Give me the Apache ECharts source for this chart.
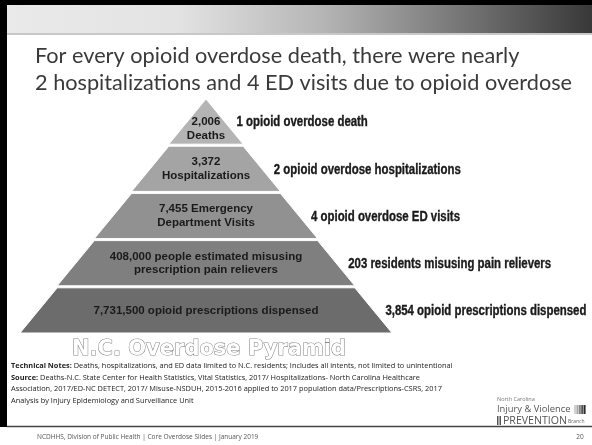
<!DOCTYPE html>
<html>
<head>
<meta charset="utf-8">
<script src="https://cdn.jsdelivr.net/npm/echarts@6/dist/echarts.min.js"></script>
<style>
  html, body { margin: 0; padding: 0; background: #fff; }
  #chart { width: 592px; height: 445px; }
</style>
</head>
<body>
<div id="chart"></div>
<script>
// Pyramid tiers, apex first. Rank sets each tier's width (tiers are equal steps).
const tierNames = ['Deaths', 'Hospitalizations', 'ED visits', 'Misuse', 'Prescriptions'];
const tierRank = [1, 2, 3, 4, 5];
const tierLabels = [
  '2,006\nDeaths',
  '3,372\nHospitalizations',
  '7,455 Emergency\nDepartment Visits',
  '408,000 people estimated misusing\nprescription pain relievers',
  '7,731,500 opioid prescriptions dispensed'
];
const ratioLabels = [
  '1 opioid overdose death',
  '2 opioid overdose hospitalizations',
  '4 opioid overdose ED visits',
  '203 residents misusing pain relievers',
  '3,854 opioid prescriptions dispensed'
];
const titleLines = [
  'For every opioid overdose death, there were nearly',
  '2 hospitalizations and 4 ED visits due to opioid overdose'
];
const noteLines = [
  '{b|Technical Notes:} Deaths, hospitalizations, and ED data limited to N.C. residents; Includes all intents, not limited to unintentional',
  '{b|Source:} Deaths-N.C. State Center for Health Statistics, Vital Statistics, 2017/ Hospitalizations- North Carolina Healthcare',
  'Association, 2017/ED-NC DETECT, 2017/ Misuse-NSDUH, 2015-2016 applied to 2017 population data/Prescriptions-CSRS, 2017',
  'Analysis by Injury Epidemiology and Surveillance Unit'
];
const footerText = 'NCDHHS, Division of Public Health | Core Overdose Slides | January 2019';
const pageNumber = '20';

const tierColors = ['#b4b4b4', '#a4a4a4', '#919191', '#7f7f7f', '#6c6c6c'];

const chart = echarts.init(document.getElementById('chart'), null, { renderer: 'canvas' });

const pyramidBox = { left: 20, top: 99, width: 372, height: 234 };
const tierGap = 2;

const bodyFont = "'Liberation Sans', Arial, sans-serif";

// Side captions sit just right of each tier's sloped edge, at the tier's mid-height,
// using the same tier geometry the funnel lays out.
const tierCount = tierRank.length;
const tierHeight = (pyramidBox.height - tierGap * (tierCount - 1)) / tierCount;
const pyramidCx = pyramidBox.left + pyramidBox.width / 2;
const widthOf = r => r / tierRank.length * pyramidBox.width;
const sideCaptions = tierRank.map((r, i) => {
  const bottom = pyramidBox.top + pyramidBox.height - (tierCount - 1 - i) * (tierHeight + tierGap);
  const mid = bottom - tierHeight / 2;
  const wBottom = widthOf(r);
  const wTop = i > 0 ? widthOf(tierRank[i - 1]) : 0;
  const edgeX = pyramidCx + (wBottom + wTop) / 4;
  return {
    type: 'text', x: edgeX + 12, y: mid + 1, scaleX: 0.815, silent: true,
    style: { text: ratioLabels[i], font: "bold 14px 'Liberation Sans', Arial, sans-serif",
      fill: '#1a1a1a', stroke: '#1a1a1a', lineWidth: 0.35, verticalAlign: 'middle' }
  };
});

chart.setOption({
  backgroundColor: '#ffffff',
  animation: false,
  graphic: [
    // slide frame and header band
    { type: 'rect', shape: { x: 0, y: 0, width: 592, height: 34 },
      style: { fill: new echarts.graphic.LinearGradient(0, 0, 1, 0, [
        { offset: 0, color: '#eaeaea' },
        { offset: 0.3, color: '#e3e3e3' },
        { offset: 0.55, color: '#b4b4b4' },
        { offset: 0.8, color: '#707070' },
        { offset: 1, color: '#383838' }
      ]) }, silent: true },
    { type: 'rect', shape: { x: 0, y: 33, width: 592, height: 2 }, style: { fill: '#c8c8c8' }, silent: true },
    { type: 'rect', shape: { x: 0, y: 0, width: 592, height: 5 }, style: { fill: '#000' }, silent: true },
    { type: 'rect', shape: { x: 0, y: 0, width: 7, height: 427 }, style: { fill: '#000' }, silent: true },
    { type: 'line', shape: { x1: 7, y1: 426.5, x2: 592, y2: 426.5 }, style: { stroke: '#444', lineWidth: 1.5 }, silent: true },

    // headline
    { type: 'text', x: 35, y: 56, silent: true,
      style: { text: titleLines[0], font: "21.7px Lato, 'Open Sans', sans-serif", fill: '#3a3a3a', verticalAlign: 'middle' } },
    { type: 'text', x: 35, y: 83, silent: true,
      style: { text: titleLines[1], font: "21.7px Lato, 'Open Sans', sans-serif", fill: '#3a3a3a', verticalAlign: 'middle' } },

    // pyramid caption
    { type: 'text', x: 209, y: 350, silent: true,
      style: { text: 'N.C. Overdose Pyramid', font: "bold 21px 'DejaVu Sans', sans-serif",
        fill: '#ffffff', stroke: '#888888', lineWidth: 1.1, align: 'center', verticalAlign: 'middle' } },

    // side captions
    ...sideCaptions,

    // notes
    ...noteLines.map((t, i) => ({
      type: 'text', x: 11, y: 366 + i * 11.6, silent: true,
      style: { text: t, font: "7.4px 'Open Sans', sans-serif", fill: '#222', verticalAlign: 'middle',
        rich: { b: { font: "bold 7.4px 'Open Sans', sans-serif", fill: '#222' } } }
    })),

    // branch logo
    { type: 'text', x: 497, y: 399, silent: true,
      style: { text: 'North Carolina', font: "5.5px 'Open Sans', sans-serif", fill: '#777', verticalAlign: 'middle' } },
    { type: 'text', x: 497, y: 409.5, silent: true,
      style: { text: 'Injury & Violence', font: "9.4px 'Open Sans', sans-serif", fill: '#555', verticalAlign: 'middle' } },
    ...[0, 1, 2, 3, 4].map(k => ({
      type: 'rect', silent: true, shape: { x: 574 + k * 2.4, y: 405, width: 2, height: 9 },
      style: { fill: ['#d0d0d0', '#a8a8a8', '#808080', '#555', '#2a2a2a'][k] }
    })),
    { type: 'rect', silent: true, shape: { x: 497, y: 416, width: 1.5, height: 9 }, style: { fill: '#555' } },
    { type: 'rect', silent: true, shape: { x: 499.5, y: 416, width: 1.5, height: 9 }, style: { fill: '#555' } },
    { type: 'text', x: 503, y: 421, silent: true,
      style: { text: 'PREVENTION', font: "10.6px 'Open Sans', sans-serif", fill: '#555', verticalAlign: 'middle' } },
    { type: 'text', x: 568, y: 422, silent: true,
      style: { text: 'Branch', font: "5px 'Open Sans', sans-serif", fill: '#666', verticalAlign: 'middle' } },

    // footer
    { type: 'text', x: 37, y: 437, silent: true,
      style: { text: footerText, font: "6.5px 'Open Sans', sans-serif", fill: '#555', verticalAlign: 'middle' } },
    { type: 'text', x: 580, y: 437, silent: true,
      style: { text: pageNumber, font: "6.5px 'Open Sans', sans-serif", fill: '#555', align: 'center', verticalAlign: 'middle' } }
  ],
  series: [
    // tiers with their counts inside
    Object.assign({
      type: 'funnel',
      name: 'Overdose pyramid',
      sort: 'ascending',
      min: 0,
      max: tierRank.length,
      minSize: '0%',
      maxSize: '100%',
      gap: tierGap,
      silent: true,
      animation: false,
      labelLine: { show: false },
      emphasis: { disabled: true },
      data: tierRank.map((v, i) => ({
        name: tierNames[i],
        value: v,
        itemStyle: { color: tierColors[i] }
      })),
      label: {
        show: true, position: 'inside',
        formatter: p => tierLabels[p.dataIndex],
        color: '#1a1a1a', fontFamily: bodyFont, fontWeight: 'bold', fontSize: 11.5, lineHeight: 13.5
      },
      // the apex is a triangle: drop its text toward the wider base
      labelLayout: p => (p.dataIndex === 0 ? { dy: 7 } : {})
    }, pyramidBox)
  ]
});
</script>
</body>
</html>
